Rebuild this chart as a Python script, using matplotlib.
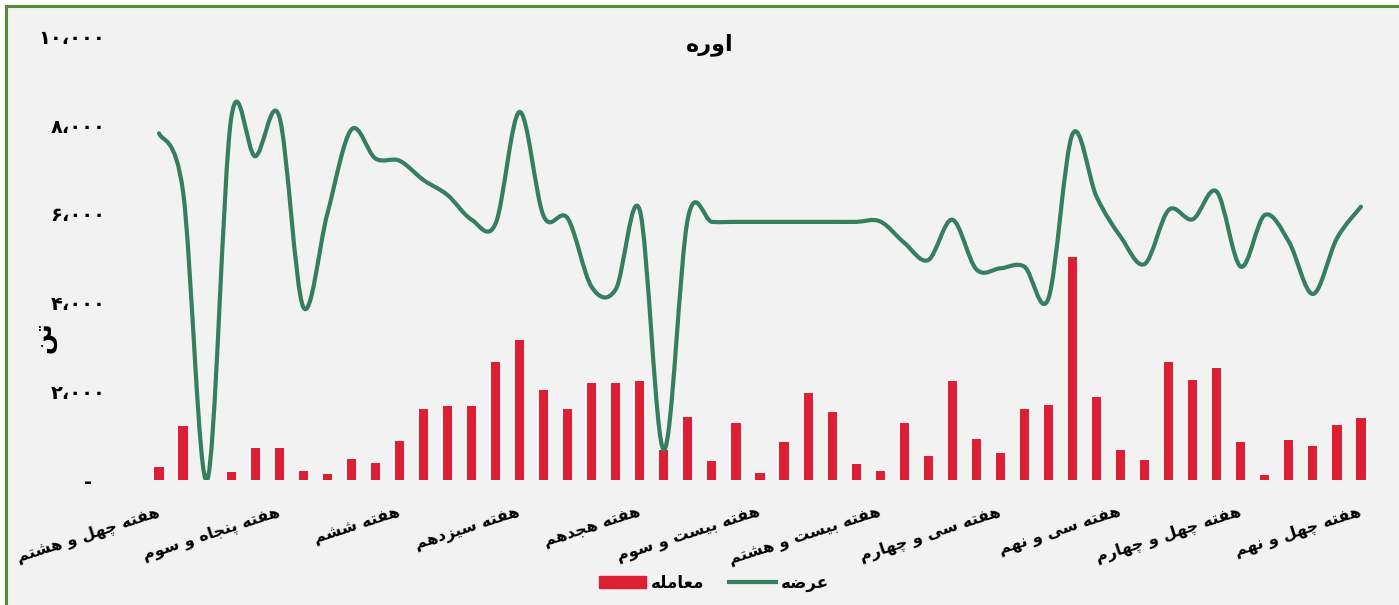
import numpy as np
import matplotlib
matplotlib.use('Agg')
import matplotlib.pyplot as plt
from matplotlib.path import Path
from matplotlib.patches import PathPatch, Rectangle
from matplotlib.lines import Line2D
from matplotlib.ticker import FuncFormatter

# داده‌ها
trade = [300, 1225, 0, 187, 728, 728, 210, 135, 481, 391, 887, 1600, 1676, 1676,
         2660, 3157, 2030, 1600, 2195, 2195, 2240, 676, 1428, 435, 1293, 165, 865,
         1970, 1541, 360, 210, 1278, 549, 2240, 932, 601, 1609, 1699, 5036, 1879,
         684, 458, 2660, 2262, 2533, 865, 120, 910, 774, 1248, 1405]
supply = [7817, 6500, 0, 8150, 7300, 8200, 3900, 6000, 7900, 7250, 7200, 6764,
          6426, 5870, 5780, 8300, 5950, 5900, 4350, 4300, 6080, 680, 5900, 5820,
          5820, 5820, 5820, 5820, 5820, 5820, 5830, 5350, 4960, 5870, 4750, 4773,
          4810, 4097, 7800, 6388, 5486, 4870, 6088, 5878, 6501, 4810, 5975, 5373,
          4194, 5450, 6163]
tick_labels = ['هفته چهل و هشتم', 'هفته پنجاه و سوم', 'هفته ششم', 'هفته سیزدهم',
               'هفته هجدهم', 'هفته بیست و سوم', 'هفته بیست و هشتم', 'هفته سی و چهارم',
               'هفته سی و نهم', 'هفته چهل و چهارم', 'هفته چهل و نهم']
title = 'اوره'
y_title = 'تن'
trade_name = 'معامله'
supply_name = 'عرضه'

RED = '#DC1F35'
GREEN = '#357F60'
BG = '#F2F2F2'

# شکل‌دهی حروف فارسی (matplotlib خودش نمی‌چسباند)
FORMS = {
    'ا': ('\uFE8D', '\uFE8E', None, None),
    'ب': ('\uFE8F', '\uFE90', '\uFE91', '\uFE92'),
    'ت': ('\uFE95', '\uFE96', '\uFE97', '\uFE98'),
    'ج': ('\uFE9D', '\uFE9E', '\uFE9F', '\uFEA0'),
    'د': ('\uFEA9', '\uFEAA', None, None),
    'ر': ('\uFEAD', '\uFEAE', None, None),
    'ز': ('\uFEAF', '\uFEB0', None, None),
    'س': ('\uFEB1', '\uFEB2', '\uFEB3', '\uFEB4'),
    'ش': ('\uFEB5', '\uFEB6', '\uFEB7', '\uFEB8'),
    'ض': ('\uFEBD', '\uFEBE', '\uFEBF', '\uFEC0'),
    'ع': ('\uFEC9', '\uFECA', '\uFECB', '\uFECC'),
    'ف': ('\uFED1', '\uFED2', '\uFED3', '\uFED4'),
    'ل': ('\uFEDD', '\uFEDE', '\uFEDF', '\uFEE0'),
    'م': ('\uFEE1', '\uFEE2', '\uFEE3', '\uFEE4'),
    'ن': ('\uFEE5', '\uFEE6', '\uFEE7', '\uFEE8'),
    'ه': ('\uFEE9', '\uFEEA', '\uFEEB', '\uFEEC'),
    'و': ('\uFEED', '\uFEEE', None, None),
    'پ': ('\uFB56', '\uFB57', '\uFB58', '\uFB59'),
    'چ': ('\uFB7A', '\uFB7B', '\uFB7C', '\uFB7D'),
    'ی': ('\uFBFC', '\uFBFD', '\uFBFE', '\uFBFF'),
}


def fa(text):
    out = []
    for i, ch in enumerate(text):
        f = FORMS.get(ch)
        if f is None:
            out.append(ch)
            continue
        prev = text[i - 1] if i > 0 else ''
        nxt = text[i + 1] if i < len(text) - 1 else ''
        jp = prev in FORMS and FORMS[prev][2] is not None
        jn = f[2] is not None and nxt in FORMS
        if jp and jn:
            out.append(f[3])
        elif jp:
            out.append(f[1])
        elif jn:
            out.append(f[2])
        else:
            out.append(f[0])
    return ''.join(reversed(out))


def fa_digits(n):
    s = f'{int(n):,}'.replace(',', '،')
    return s.translate(str.maketrans('0123456789', '۰۱۲۳۴۵۶۷۸۹'))


plt.rcParams['font.family'] = ['DejaVu Sans']

W, H = 1399, 605
fig = plt.figure(figsize=(W / 100, H / 100), dpi=100, facecolor='white')
fig.patches.append(Rectangle((6 / W, 0), 1, 1 - 6 / H, transform=fig.transFigure,
                             facecolor=BG, edgecolor='none', zorder=-10))
fig.add_artist(Line2D([6 / W, 1], [1 - 6 / H, 1 - 6 / H], color='#568C32', lw=2.2))
fig.add_artist(Line2D([6 / W, 6 / W], [0, 1 - 6 / H], color='#568C32', lw=2.2))

ax = fig.add_axes([147 / W, 125 / H, 1226 / W, 443.5 / H])
ax.set_facecolor(BG)
ax.patch.set_alpha(0)

x = np.arange(len(trade))
ax.bar(x, trade, width=0.38, color=RED, zorder=2)

# خط هموار شبیه اکسل (Catmull-Rom)
pts = np.column_stack([x, supply]).astype(float)
verts = [tuple(pts[0])]
codes = [Path.MOVETO]
for k in range(len(pts) - 1):
    p0 = pts[k - 1] if k > 0 else pts[k]
    p1 = pts[k]
    p2 = pts[k + 1]
    p3 = pts[k + 2] if k + 2 < len(pts) else pts[k + 1]
    c1 = p1 + (p2 - p0) / 6
    c2 = p2 - (p3 - p1) / 6
    verts += [tuple(c1), tuple(c2), tuple(p2)]
    codes += [Path.CURVE4] * 3
ax.add_patch(PathPatch(Path(verts, codes), fill=False, edgecolor=GREEN, lw=3,
                       capstyle='round', joinstyle='round', zorder=3))

ax.set_xlim(-0.5, len(trade) - 0.5)
ax.set_ylim(0, 10000)
ax.set_yticks(range(0, 10001, 2000))
ax.yaxis.set_major_formatter(FuncFormatter(lambda v, p: '-  ' if v == 0 else fa_digits(v)))
ax.set_xticks(range(0, len(trade), 5))
ax.set_xticklabels([fa(t) for t in tick_labels], rotation=18, ha='right',
                   va='center', rotation_mode='anchor', fontsize=11.5, fontweight='bold')
ax.tick_params(axis='y', length=0, pad=30, labelsize=14)
ax.tick_params(axis='x', length=0, pad=23)
for lbl in ax.get_yticklabels():
    lbl.set_fontweight('bold')
for s in ax.spines.values():
    s.set_visible(False)

fig.text(710 / W, 1 - 45 / H, fa(title), ha='center', va='center',
         fontsize=16, fontweight='bold')
fig.text(44 / W, 1 - 337 / H, fa(y_title), ha='center', va='center',
         rotation=90, fontsize=18, fontweight='bold')

handles = [Rectangle((0, 0), 1, 1, color=RED), Line2D([], [], color=GREEN, lw=3)]
fig.legend(handles, [fa(trade_name), fa(supply_name)], loc='center',
           bbox_to_anchor=(714 / W, 1 - 583 / H), ncol=2, frameon=False,
           prop={'weight': 'bold', 'size': 12}, handlelength=2.8,
           handletextpad=0.3, columnspacing=1.5)

fig.savefig('out.png', dpi=100, facecolor=fig.get_facecolor())
